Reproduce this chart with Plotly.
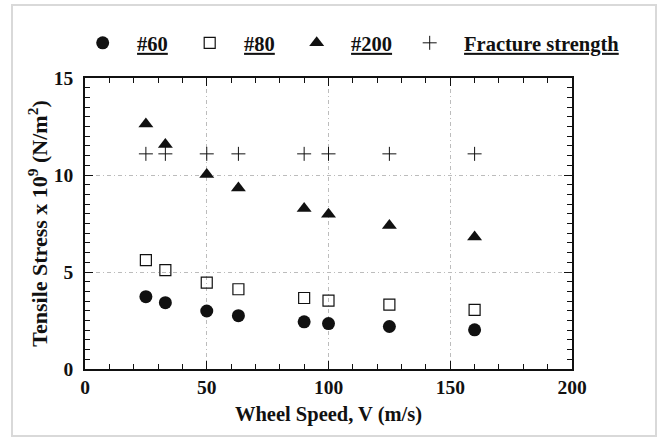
import plotly.graph_objects as go

speed = [25, 33, 50, 63, 90, 100, 125, 160]
s60 = [3.73, 3.42, 2.99, 2.75, 2.43, 2.34, 2.19, 2.02]
s80 = [5.61, 5.10, 4.45, 4.11, 3.66, 3.52, 3.32, 3.05]
s200 = [12.63, 11.57, 10.03, 9.33, 8.27, 7.98, 7.40, 6.81]
fracture = [11.09, 11.09, 11.09, 11.09, 11.09, 11.09, 11.09, 11.09]

FONT = "Liberation Serif"
INK = "#111111"
SP = "&nbsp;&nbsp;&#8201;"

L, R, T, B = 85, 85, 78, 68
W, H = 657, 437
PW, PH = W - L - R, H - T - B

fig = go.Figure()
fig.add_trace(go.Scatter(x=speed, y=s60, mode="markers", name=SP + "<b><u>#60</u></b>",
                         legendwidth=62,
                         marker=dict(symbol="circle", size=13, color=INK, line=dict(width=0))))
fig.add_trace(go.Scatter(x=speed, y=s80, mode="markers", name=SP + "<b><u>#80</u></b>",
                         legendwidth=62,
                         marker=dict(symbol="square-open", size=11, color=INK, line=dict(width=1.2))))
fig.add_trace(go.Scatter(x=speed, y=s200, mode="markers", name=SP + "<b><u>#200</u></b>",
                         legendwidth=68,
                         marker=dict(symbol="triangle-up", size=13, color=INK, line=dict(width=0))))
fig.add_trace(go.Scatter(x=speed, y=fracture, mode="markers", name=SP + "<b><u>Fracture strength</u></b>",
                         marker=dict(symbol="cross-thin", size=10, color=INK, line=dict(width=1, color=INK))))

grid = dict(showgrid=True, gridcolor="#bcbcbc", gridwidth=1, griddash="4px,3px,1px,3px")
tfont = dict(family=FONT, size=19.5, color=INK, weight="bold")

fig.update_xaxes(range=[0, 200], dtick=50, tick0=0, ticks="inside", ticklen=8, tickwidth=1,
                 tickcolor=INK, showline=True, linecolor=INK, linewidth=1.5, mirror="ticks",
                 zeroline=False,
                 minor=dict(dtick=10, ticks="inside", ticklen=5, tickcolor=INK, showgrid=False),
                 tickfont=tfont,
                 title=dict(text="<b>Wheel Speed, V (m/s)</b>", font=dict(family=FONT, size=20.5, color=INK),
                            standoff=9),
                 **grid)
fig.update_yaxes(range=[0, 15], dtick=5, tick0=0, ticks="inside", ticklen=8, tickwidth=1,
                 tickcolor=INK, showline=True, linecolor=INK, linewidth=1.5, mirror="ticks",
                 zeroline=False,
                 minor=dict(dtick=0.5, ticks="inside", ticklen=5, tickcolor=INK, showgrid=False),
                 tickfont=tfont, ticklabelstandoff=6,
                 title=dict(text="<b>Tensile Stress x 10<sup>9</sup> (N/m<sup>2</sup>)</b>",
                            font=dict(family=FONT, size=22, color=INK), standoff=0),
                 **grid)

fig.update_layout(
    width=W, height=H,
    margin=dict(l=L, r=R, t=T, b=B),
    paper_bgcolor="white", plot_bgcolor="white",
    font=dict(family=FONT, size=18, color=INK),
    showlegend=True,
    legend=dict(orientation="h", xref="paper", yref="paper",
                x=(82.7 - L) / PW, y=1 + (T - 43) / PH,
                xanchor="left", yanchor="middle", font=dict(family=FONT, size=20.5, color=INK),
                bgcolor="rgba(0,0,0,0)", borderwidth=0, itemclick=False),
)
# outer light frame around the figure
fig.add_shape(type="rect", xref="paper", yref="paper",
              x0=(12 - L) / PW, x1=(656 - L) / PW,
              y0=-(436 - (H - B)) / PH, y1=1 + (T - 5) / PH,
              line=dict(color="#d9d9d9", width=2), layer="below")

fig.write_html("out.html")
